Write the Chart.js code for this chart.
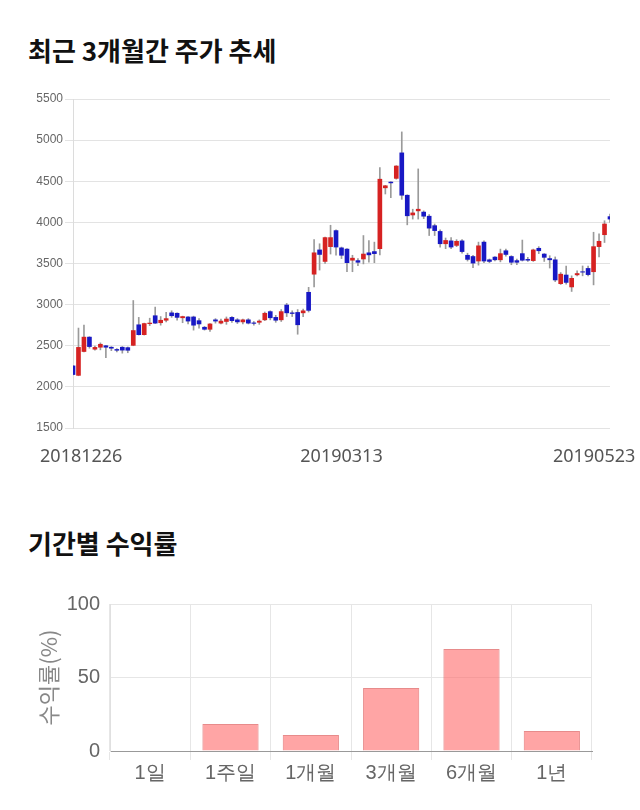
<!DOCTYPE html>
<html>
<head>
<meta charset="utf-8">
<script src="https://cdn.jsdelivr.net/npm/chart.js@4"></script>
<style>
  body { margin: 0; background: #fff; width: 640px; height: 810px; position: relative; overflow: hidden;
         font-family: "Noto Sans CJK KR", "Noto Sans", sans-serif; }
  h2 { position: absolute; left: 28px; margin: 0; font-size: 26px; font-weight: 700; color: #111; line-height: 1; }
  #title1 { top: 37px; }
  #title2 { top: 530px; }
  .box { position: absolute; left: 0; width: 640px; }
  #priceBox { top: 80px; height: 400px; }
  #returnBox { top: 580px; height: 220px; }
</style>
</head>
<body>
<h2 id="title1">최근 3개월간 주가 추세</h2>
<div class="box" id="priceBox"><canvas id="priceChart"></canvas></div>
<h2 id="title2">기간별 수익률</h2>
<div class="box" id="returnBox"><canvas id="returnChart"></canvas></div>

<script>
// Daily candles, 20181226 - 20190523
const openPrices = [
  2255, 2140, 2430, 2605, 2458, 2482, 2500, 2482, 2455, 2482,
  2477, 2505, 2755, 2635, 2768, 2865, 2780, 2810, 2900, 2895,
  2840, 2850, 2850, 2805, 2725, 2700, 2815, 2775, 2795, 2845,
  2815, 2790, 2815, 2778, 2785, 2815, 2915, 2845, 2815, 2995,
  2900, 2905, 2900, 3150, 3370, 3665, 3525, 3705, 3900, 3690,
  3675, 3540, 3535, 3555, 3630, 3645, 3680, 4420, 4490, 4535,
  4845, 4330, 4090, 4140, 4125, 4075, 3960, 3890, 3740, 3775,
  3720, 3775, 3600, 3585, 3530, 3760, 3545, 3578, 3545, 3655,
  3585, 3535, 3620, 3550, 3535, 3685, 3615, 3560, 3545, 3255,
  3360, 3215, 3362, 3400, 3440, 3400, 3705, 3850, 4070
];
const highPrices = [
  2260, 2715, 2750, 2610, 2495, 2535, 2505, 2490, 2465, 2490,
  2485, 3050, 2845, 2775, 2835, 2970, 2855, 2905, 2925, 2900,
  2860, 2855, 2860, 2830, 2735, 2770, 2830, 2825, 2850, 2855,
  2830, 2825, 2830, 2795, 2815, 2910, 2925, 2870, 2940, 3015,
  2925, 2940, 2945, 3210, 3790, 3740, 3820, 3965, 3910, 3700,
  3680, 3600, 3560, 3840, 3780, 3760, 4665, 4450, 4495, 4690,
  5100, 4335, 4160, 4650, 4140, 4095, 3980, 3910, 3810, 3815,
  3790, 3790, 3625, 3600, 3760, 3775, 3555, 3585, 3675, 3675,
  3595, 3555, 3785, 3575, 3675, 3705, 3620, 3595, 3580, 3390,
  3470, 3350, 3410, 3470, 3470, 3880, 3860, 4020, 4100
];
const lowPrices = [
  2145, 2135, 2425, 2470, 2445, 2450, 2355, 2440, 2425, 2410,
  2415, 2500, 2630, 2630, 2745, 2770, 2750, 2790, 2845, 2810,
  2780, 2765, 2690, 2715, 2690, 2675, 2775, 2765, 2760, 2785,
  2770, 2765, 2765, 2750, 2760, 2805, 2815, 2785, 2795, 2855,
  2855, 2640, 2855, 2910, 3215, 3420, 3500, 3615, 3600, 3560,
  3400, 3400, 3475, 3495, 3515, 3510, 3605, 4345, 4300, 4525,
  4280, 3970, 4040, 4040, 4045, 3840, 3840, 3700, 3680, 3680,
  3705, 3625, 3530, 3450, 3480, 3510, 3510, 3530, 3520, 3590,
  3485, 3485, 3530, 3525, 3525, 3620, 3525, 3445, 3280, 3245,
  3250, 3160, 3350, 3350, 3350, 3240, 3580, 3755, 4000
];
const closePrices = [
  2150, 2480, 2605, 2490, 2480, 2518, 2482, 2470, 2445, 2447,
  2445, 2685, 2635, 2770, 2776, 2775, 2810, 2830, 2865, 2845,
  2855, 2800, 2750, 2765, 2700, 2765, 2800, 2800, 2825, 2805,
  2790, 2815, 2775, 2772, 2800, 2895, 2840, 2810, 2915, 2900,
  2892, 2755, 2925, 2930, 3630, 3610, 3815, 3815, 3700, 3600,
  3510, 3565, 3515, 3615, 3605, 3620, 4525, 4445, 4480, 4685,
  4330, 4080, 4115, 4160, 4075, 3930, 3900, 3740, 3780, 3700,
  3770, 3645, 3550, 3505, 3715, 3530, 3525, 3545, 3620, 3610,
  3515, 3515, 3540, 3540, 3665, 3655, 3575, 3545, 3300, 3370,
  3270, 3320, 3378, 3395, 3365, 3705, 3770, 3980, 4040
];
const dateLabels = ['20181226', '20190313', '20190523'];

// Returns by period
const periodLabels = ['1일', '1주일', '1개월', '3개월', '6개월', '1년'];
const periodReturns = [0, 18.4, 10.9, 42.9, 69.4, 13.6];

const RED = 'rgb(214,34,34)';
const BLUE = 'rgb(24,24,196)';

// Price chart (candles as floating bars)
const idx = openPrices.map((_, i) => i);
const bodies = idx.map(i => ({ x: i, y: [openPrices[i], closePrices[i]] }));
const wicks = idx.map(i => ({ x: i, y: [lowPrices[i], highPrices[i]] }));
const bodyColors = idx.map(i => closePrices[i] >= openPrices[i] ? RED : BLUE);

new Chart(document.getElementById('priceChart'), {
  type: 'bar',
  data: {
    datasets: [
      { data: bodies, backgroundColor: bodyColors, barThickness: 4, grouped: false, clip: 0, order: 0 },
      { data: wicks, backgroundColor: '#9a9a9a', barThickness: 1, grouped: false, clip: 0, order: 1 }
    ]
  },
  options: {
    responsive: true,
    maintainAspectRatio: false,
    animation: false,
    layout: { padding: { left: 30, right: 30, top: 19, bottom: 0 } },
    plugins: { legend: { display: false }, tooltip: { enabled: false } },
    scales: {
      x: {
        type: 'linear',
        min: 0,
        max: openPrices.length - 1,
        offset: false,
        grid: { display: false },
        border: { display: false },
        afterBuildTicks: (scale) => {
          // label centres, in candle units (end labels pulled inside the canvas)
          scale.ticks = [1.5, 49, 95.1].map(v => ({ value: v }));
        },
        afterFit: (scale) => {
          scale.height = 52;
          scale.paddingLeft = 0;
          scale.paddingRight = 0;
        },
        ticks: {
          autoSkip: false,
          maxRotation: 0,
          padding: 10,
          color: '#555',
          font: { family: 'Noto Sans', size: 18 },
          callback: (v, i) => dateLabels[i]
        }
      },
      y: {
        min: 1500,
        max: 5500,
        grid: { color: '#e3e3e3', tickLength: 8 },
        border: { color: '#dcdcdc' },
        afterFit: (scale) => { scale.width = 43; },
        ticks: {
          stepSize: 500,
          padding: 2,
          color: '#666',
          font: { family: 'Liberation Sans', size: 12 },
          callback: (v) => String(v)
        }
      }
    }
  }
});

// Returns chart
new Chart(document.getElementById('returnChart'), {
  type: 'bar',
  data: {
    labels: periodLabels,
    datasets: [{
      data: periodReturns,
      backgroundColor: 'rgba(255,100,100,0.58)',
      borderColor: 'rgba(225,110,110,0.8)',
      borderWidth: 1,
      barPercentage: 0.875,
      categoryPercentage: 0.8
    }]
  },
  options: {
    responsive: true,
    maintainAspectRatio: false,
    animation: false,
    layout: { padding: { left: 33, right: 48, top: 24, bottom: 0 } },
    plugins: { legend: { display: false }, tooltip: { enabled: false } },
    scales: {
      x: {
        grid: { color: '#e6e6e6', tickLength: 9 },
        border: { color: '#999' },
        afterFit: (scale) => { scale.height = 49; },
        ticks: {
          padding: 1,
          color: '#666',
          font: { family: 'Liberation Sans', size: 20 }
        }
      },
      y: {
        min: 0,
        max: 100,
        grid: { color: '#e6e6e6', drawTicks: false },
        border: { color: '#e0e0e0' },
        afterFit: (scale) => { scale.width = 77; },
        title: {
          display: true,
          text: '수익률(%)',
          color: '#888',
          padding: { top: 2, bottom: 2 },
          font: { family: 'Noto Sans CJK KR', size: 22 }
        },
        ticks: {
          stepSize: 50,
          padding: 10,
          color: '#666',
          font: { family: 'Liberation Sans', size: 20 }
        }
      }
    }
  }
});
</script>
</body>
</html>
